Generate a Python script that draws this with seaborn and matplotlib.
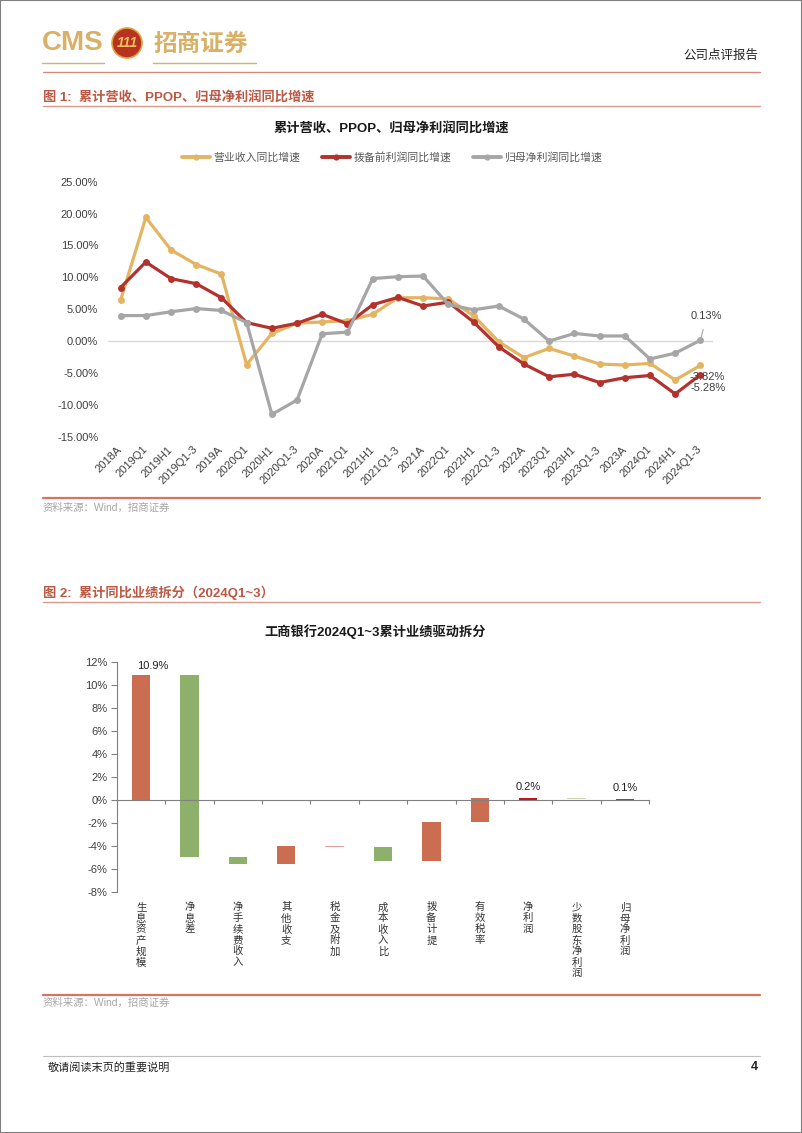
import numpy as np
import pandas as pd
import seaborn as sns
import matplotlib.pyplot as plt
from matplotlib.patches import Ellipse, Rectangle
from matplotlib.lines import Line2D

# ---- data: chart 1 (cumulative yoy growth, %) ----
periods = ["2018A", "2019Q1", "2019H1", "2019Q1-3", "2019A", "2020Q1", "2020H1", "2020Q1-3",
           "2020A", "2021Q1", "2021H1", "2021Q1-3", "2021A", "2022Q1", "2022H1", "2022Q1-3",
           "2022A", "2023Q1", "2023H1", "2023Q1-3", "2023A", "2024Q1", "2024H1", "2024Q1-3"]
revenue_yoy = [6.4, 19.4, 14.3, 12.0, 10.5, -3.7, 1.2, 2.8, 3.0, 3.2, 4.2, 6.8,
               6.8, 6.6, 4.0, -0.1, -2.6, -1.15, -2.35, -3.6, -3.76, -3.5, -6.1, -3.82]
ppop_yoy = [8.4, 12.4, 9.8, 9.0, 6.8, 2.9, 2.0, 2.8, 4.2, 2.7, 5.7, 6.85,
            5.5, 6.1, 3.0, -0.9, -3.6, -5.6, -5.2, -6.5, -5.75, -5.4, -8.3, -5.28]
np_yoy = [4.0, 4.0, 4.6, 5.1, 4.8, 2.9, -11.5, -9.25, 1.15, 1.4, 9.8, 10.1,
          10.2, 5.75, 4.9, 5.5, 3.45, 0.0, 1.2, 0.8, 0.8, -2.8, -1.9, 0.13]
series_names = ["营业收入同比增速", "拨备前利润同比增速", "归母净利润同比增速"]

# ---- data: chart 2 (waterfall of drivers, %) ----
drivers = ["生息资产规模", "净息差", "净手续费收入", "其他收支", "税金及附加", "成本收入比",
           "拨备计提", "有效税率", "净利润", "少数股东净利润", "归母净利润"]
driver_values = [10.9, -15.85, -0.65, 1.6, -0.08, -1.25, 3.4, 2.1, 0.17, -0.06, 0.11]
total_flags = [False, False, False, False, False, False, False, False, True, False, True]

W, H = 802, 1133
sns.set_style("white")
plt.rcParams['font.family'] = ['Liberation Sans', 'Noto Sans CJK SC']
plt.rcParams['axes.unicode_minus'] = False

fig = plt.figure(figsize=(W / 100, H / 100), dpi=100)


def box(l, t, r, b):
    return [l / W, 1 - b / H, (r - l) / W, (b - t) / H]


def ftext(x, y, s, **kw):
    fig.text(x / W, 1 - y / H, s, **kw)


def hline(x0, x1, y, **kw):
    fig.add_artist(Line2D([x0 / W, x1 / W], [1 - y / H, 1 - y / H], transform=fig.transFigure, **kw))


RED_TXT = "#BC5843"
GOLD = "#D8B066"

# ---- page header ----
ftext(42, 43, "CMS", fontsize=20, fontweight="bold", color=GOLD, va="center", family="Liberation Sans")
fig.add_artist(Ellipse((127 / W, 1 - 43 / H), 30 / W, 30 / H, transform=fig.transFigure,
                       facecolor="#B83222", edgecolor="#E2A341", lw=1.2))
ftext(127, 43, "111", fontsize=10, fontweight="bold", style="italic", color="#F2C35A",
      ha="center", va="center")
ftext(153, 44, "招商证券", fontsize=17, fontweight="bold", color=GOLD, va="center",
      family="Noto Sans CJK SC")
hline(42, 104, 63, color=GOLD, lw=1)
hline(153, 256, 63, color=GOLD, lw=1)
ftext(758, 56, "公司点评报告", fontsize=9, color="#222222", ha="right", va="center")
hline(43, 760, 72, color="#D48C7C", lw=1)
fig.add_artist(Rectangle((0, 0), 1, 1, transform=fig.transFigure, fill=False,
                         edgecolor="#7F7F7F", lw=1.5))

# ---- figure 1 ----
ftext(43, 97, "图 1:  累计营收、PPOP、归母净利润同比增速", fontsize=9.5, color=RED_TXT,
      va="center", fontweight="bold")
hline(43, 760, 106, color="#D9998B", lw=1)
ftext(391, 128, "累计营收、PPOP、归母净利润同比增速", fontsize=9.5, fontweight="bold",
      color="#1A1A1A", ha="center", va="center")

line_colors = ["#E5B462", "#B4322D", "#A6A6A6"]
df = pd.DataFrame({"x": np.arange(len(periods)), series_names[0]: revenue_yoy,
                   series_names[1]: ppop_yoy, series_names[2]: np_yoy})
long_df = df.melt(id_vars="x", var_name="series", value_name="yoy")

ax1 = fig.add_axes(box(108, 181.7, 713, 436.7))
ax1.axhline(0, color="#D9D9D9", lw=1, zorder=0)
sns.lineplot(data=long_df, x="x", y="yoy", hue="series", hue_order=series_names,
             palette=line_colors, marker="o", markersize=5, markeredgewidth=0,
             linewidth=2.3, sort=False, ax=ax1, legend=False)
ax1.set_xlim(-0.5, len(periods) - 0.5)
ax1.set_ylim(-15, 25)
ax1.set_yticks(np.arange(-15, 26, 5))
ax1.set_yticklabels([f"{v:.2f}%" for v in np.arange(-15, 26, 5)])
ax1.set_xticks(np.arange(len(periods)))
ax1.set_xticklabels(periods, rotation=45, ha="right", va="center", rotation_mode="anchor")
ax1.tick_params(axis="y", length=0, pad=7, labelsize=8, labelcolor="#404040")
ax1.tick_params(axis="x", length=0, pad=8, labelsize=8, labelcolor="#404040")
ax1.set_xlabel("")
ax1.set_ylabel("")
for s in ax1.spines.values():
    s.set_visible(False)
last = len(periods) - 1
ax1.annotate(f"{np_yoy[-1]:.2f}%", xy=(last, np_yoy[-1]), xytext=(last + 0.25, np_yoy[-1] + 3.8),
             fontsize=8, color="#404040", ha="center", va="center",
             arrowprops=dict(arrowstyle="-", color="#A6A6A6", lw=0.8, shrinkA=4, shrinkB=2))
ax1.text(last - 0.45, revenue_yoy[-1] - 1.75, f"{revenue_yoy[-1]:.2f}%", fontsize=8,
         color="#404040", ha="left", va="center")
ax1.text(last - 0.4, ppop_yoy[-1] - 2.1, f"{ppop_yoy[-1]:.2f}%", fontsize=8,
         color="#404040", ha="left", va="center")

handles = [Line2D([0], [0], color=c, lw=2.8, marker="o", markersize=4.5, markeredgewidth=0)
           for c in line_colors]
fig.legend(handles, series_names, loc="center", bbox_to_anchor=(392 / W, 1 - 157 / H), ncol=3,
           frameon=False, fontsize=7.8, handlelength=2.6, handletextpad=0.3,
           columnspacing=2.0, labelcolor="#595959")

hline(43, 760, 498, color="#D8735E", lw=1.6)
ftext(43, 508, "资料来源：Wind，招商证券", fontsize=7.5, color="#A6A6A6", va="center")

# ---- figure 2 ----
ftext(43, 593, "图 2:  累计同比业绩拆分（2024Q1~3）", fontsize=9.5, color=RED_TXT,
      va="center", fontweight="bold")
hline(43, 760, 602, color="#D9998B", lw=1)
ftext(375, 632, "工商银行2024Q1~3累计业绩驱动拆分", fontsize=9.5, fontweight="bold",
      color="#1A1A1A", ha="center", va="center")

vals = np.array(driver_values)
tops, bottoms = [], []
level = 0.0
for v, is_total in zip(vals, total_flags):
    if is_total:
        start, end = 0.0, v
    else:
        start, end = level, level + v
    level = end
    tops.append(max(start, end))
    bottoms.append(min(start, end))
heights = np.array(tops) - np.array(bottoms)

bar_colors = ["#CB6D51", "#8DB06B", "#8DB06B", "#CB6D51", "#E8A09A", "#8DB06B",
              "#CB6D51", "#CB6D51", "#C0141C", "#C9D5AE", "#A33A3A"]
ax2 = fig.add_axes(box(117, 662, 649, 892))
sns.barplot(x=drivers, y=heights, hue=drivers, palette=dict(zip(drivers, bar_colors)),
            legend=False, width=0.38, saturation=1, ax=ax2)
for patch, b in zip(ax2.patches, bottoms):
    patch.set_y(b)
    patch.set_edgecolor("none")
ax2.set_xlim(-0.5, len(drivers) - 0.5)
ax2.set_ylim(-8, 12)
ax2.set_yticks(np.arange(-8, 13, 2))
ax2.set_yticklabels([f"{v}%" for v in np.arange(-8, 13, 2)])
ax2.set_xticks(np.arange(-0.5, len(drivers), 1))
ax2.set_xticklabels([])
ax2.tick_params(axis="y", direction="out", length=4, width=0.8, color="#808080",
                labelsize=8, labelcolor="#404040", pad=3, left=True)
ax2.tick_params(axis="x", direction="out", length=3, width=0.8, color="#808080", bottom=True)
ax2.spines["top"].set_visible(False)
ax2.spines["right"].set_visible(False)
ax2.spines["left"].set_color("#808080")
ax2.spines["bottom"].set_color("#808080")
ax2.spines["left"].set_linewidth(0.8)
ax2.spines["bottom"].set_linewidth(0.8)
ax2.spines["bottom"].set_position(("data", 0))
ax2.set_ylabel("")

for i, name in enumerate(drivers):
    ax2.text(i, -8.9, "\n".join(name), ha="center", va="top", fontsize=7.5, linespacing=1.12,
             color="#333333", family="Noto Sans CJK SC")
ax2.text(0.25, tops[0] + 0.35, f"{vals[0]:.1f}%", ha="center", va="bottom", fontsize=8,
         color="#222222")
ax2.text(8, tops[8] + 0.5, f"{vals[8]:.1f}%", ha="center", va="bottom", fontsize=8, color="#222222")
ax2.text(10, tops[10] + 0.5, f"{vals[10]:.1f}%", ha="center", va="bottom", fontsize=8,
         color="#222222")

hline(43, 760, 995, color="#D8735E", lw=1.6)
ftext(43, 1003, "资料来源：Wind，招商证券", fontsize=7.5, color="#A6A6A6", va="center")

# ---- footer ----
hline(43, 760, 1056, color="#BFBFBF", lw=0.8)
ftext(48, 1067, "敬请阅读末页的重要说明", fontsize=8, color="#222222", va="center")
ftext(758, 1067, "4", fontsize=9, fontweight="bold", color="#222222", ha="right", va="center")

fig.savefig("out.png", dpi=100)
